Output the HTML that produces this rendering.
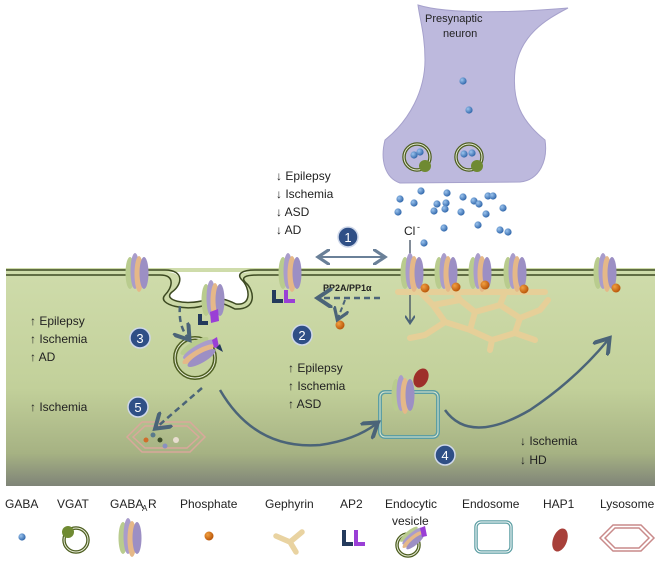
<!DOCTYPE html>
<html><head><meta charset="utf-8"><style>
html,body{margin:0;padding:0;background:#fff;}
svg{display:block;}
text{font-family:"Liberation Sans",sans-serif;fill:#222;}
</style></head><body>
<svg width="661" height="573" viewBox="0 0 661 573" xmlns="http://www.w3.org/2000/svg">
<defs>
<linearGradient id="cell" x1="0" y1="0" x2="0" y2="1">
<stop offset="0" stop-color="#cfdcab"/><stop offset="0.55" stop-color="#c2d09a"/><stop offset="0.85" stop-color="#a6b283"/><stop offset="1" stop-color="#7f8478"/>
</linearGradient>
<radialGradient id="ball" cx="0.35" cy="0.35" r="0.7"><stop offset="0" stop-color="#9cc4ee"/><stop offset="1" stop-color="#2c63a8"/></radialGradient>
<radialGradient id="pho" cx="0.35" cy="0.35" r="0.7"><stop offset="0" stop-color="#f2a040"/><stop offset="1" stop-color="#b65207"/></radialGradient>
<g id="rec">
<ellipse cx="-7" cy="0" rx="4.5" ry="16" fill="#b9cc8e"/>
<ellipse cx="-2" cy="-2" rx="4.5" ry="18" fill="#a99ccb"/>
<ellipse cx="2" cy="1" rx="4.5" ry="18" fill="#e5b888"/>
<ellipse cx="7" cy="0" rx="4.5" ry="16" fill="#9c8fc4"/>
</g>
<g id="gaba"><circle r="3.6" fill="url(#ball)"/></g>
<marker id="ah" markerWidth="8" markerHeight="8" refX="5" refY="4" orient="auto"><path d="M0 0 L6 4 L0 8" fill="none" stroke="#4b6478" stroke-width="1.6"/></marker>
<marker id="ahs" markerWidth="8" markerHeight="8" refX="5" refY="4" orient="auto-start-reverse"><path d="M0 0 L6 4 L0 8" fill="none" stroke="#6a8098" stroke-width="1.6"/></marker>
</defs>

<!-- cell -->
<rect x="6" y="268" width="649" height="218" fill="url(#cell)"/>
<!-- invagination pocket (white) -->
<path d="M165 272 C185 272 182 285 172 292 C162 300 185 306 205 300 C218 296 228 300 236 304 C252 306 250 288 242 280 C236 274 242 272 255 272 Z" fill="#fff"/>
<path d="M6 270 H165 C185 270 182 285 172 292 C162 300 185 306 205 300 C218 296 228 300 236 304 C252 306 250 288 242 280 C236 274 242 270 255 270 H655" fill="none" stroke="#3d4a22" stroke-width="1.5"/>
<path d="M6 275 H160 C176 275 172 288 165 295 C156 305 188 312 205 305 C218 300 225 304 235 309 C258 310 254 290 246 283 C240 277 246 275 258 275 H655" fill="none" stroke="#3d4a22" stroke-width="1.5"/>

<!-- presynaptic neuron -->
<path d="M418 5 C450 15 520 12 568 8 C545 20 520 35 515 70 C512 100 520 120 545 140 C548 160 540 180 520 182 L400 183 C385 178 380 160 385 140 C410 120 425 90 425 60 C425 35 420 20 418 5 Z" fill="#bdb9dd" stroke="#a6a1cc"/>
<text x="425" y="22" font-size="11">Presynaptic</text>
<text x="443" y="37" font-size="11">neuron</text>
<use href="#gaba" x="463" y="81"/><use href="#gaba" x="469" y="110"/>
<circle cx="417" cy="157" r="13" fill="none" stroke="#4d5e20" stroke-width="3.5"/><circle cx="417" cy="157" r="13" fill="none" stroke="#e8ecd8" stroke-width="1"/>
<circle cx="469" cy="157" r="13" fill="none" stroke="#4d5e20" stroke-width="3.5"/><circle cx="469" cy="157" r="13" fill="none" stroke="#e8ecd8" stroke-width="1"/>
<circle cx="425" cy="166" r="6" fill="#6f8a32"/><circle cx="477" cy="166" r="6" fill="#6f8a32"/>
<use href="#gaba" x="414" y="155"/><use href="#gaba" x="420" y="152"/><use href="#gaba" x="464" y="154"/><use href="#gaba" x="472" y="153"/>
<g>
<use href="#gaba" x="421" y="191"/><use href="#gaba" x="447" y="193"/><use href="#gaba" x="463" y="197"/><use href="#gaba" x="488" y="196"/><use href="#gaba" x="493" y="196"/>
<use href="#gaba" x="400" y="199"/><use href="#gaba" x="414" y="203"/><use href="#gaba" x="437" y="204"/><use href="#gaba" x="446" y="203"/><use href="#gaba" x="474" y="201"/><use href="#gaba" x="479" y="204"/><use href="#gaba" x="503" y="208"/>
<use href="#gaba" x="398" y="212"/><use href="#gaba" x="434" y="211"/><use href="#gaba" x="445" y="209"/><use href="#gaba" x="461" y="212"/><use href="#gaba" x="486" y="214"/>
<use href="#gaba" x="444" y="228"/><use href="#gaba" x="478" y="225"/><use href="#gaba" x="500" y="230"/><use href="#gaba" x="508" y="232"/><use href="#gaba" x="424" y="243"/>
</g>
<text x="404" y="235" font-size="12">Cl</text><text x="417" y="230" font-size="9">-</text>
<path d="M410 240 V322" stroke="#3f4f60" stroke-width="1.3" marker-end="url(#ah)"/>

<!-- disease text -->
<g font-size="12">
<text x="276" y="180">↓ Epilepsy</text><text x="276" y="198">↓ Ischemia</text><text x="276" y="216">↓ ASD</text><text x="276" y="234">↓ AD</text>
<text x="30" y="325">↑ Epilepsy</text><text x="30" y="343">↑ Ischemia</text><text x="30" y="361">↑ AD</text>
<text x="30" y="411">↑ Ischemia</text>
<text x="288" y="372">↑ Epilepsy</text><text x="288" y="390">↑ Ischemia</text><text x="288" y="408">↑ ASD</text>
<text x="520" y="445">↓ Ischemia</text><text x="520" y="464">↓ HD</text>
</g>
<text x="323" y="291" font-size="9" font-weight="bold">PP2A/PP1α</text>

<!-- numbered circles -->
<g font-size="13" text-anchor="middle">
<circle cx="348" cy="237" r="10" fill="#2f4f86" stroke="#cfd8ea" stroke-width="1.5"/><text x="348" y="242" style="fill:#fff">1</text>
<circle cx="302" cy="335" r="10" fill="#2f4f86" stroke="#cfd8ea" stroke-width="1.5"/><text x="302" y="340" style="fill:#fff">2</text>
<circle cx="140" cy="338" r="10" fill="#2f4f86" stroke="#cfd8ea" stroke-width="1.5"/><text x="140" y="343" style="fill:#fff">3</text>
<circle cx="138" cy="407" r="10" fill="#2f4f86" stroke="#cfd8ea" stroke-width="1.5"/><text x="138" y="412" style="fill:#fff">5</text>
<circle cx="445" cy="455" r="10" fill="#2f4f86" stroke="#cfd8ea" stroke-width="1.5"/><text x="445" y="460" style="fill:#fff">4</text>
</g>

<!-- gephyrin lattice -->
<g stroke="#e6cf98" stroke-width="6" stroke-linecap="round" fill="none">
<path d="M398 292 H545 M420 292 L433 305 L460 300 L475 312 L500 305 L520 318 L540 310 M433 305 L445 322 L470 330 L475 312 M445 322 L425 335 M470 330 L492 340 L515 333 L520 318 M500 305 L505 292 M460 300 L455 292 M515 333 L535 340 M492 340 L490 350 M410 338 L425 335 M548 300 L540 310"/>
</g>
<use href="#rec" x="137" y="273"/>
<use href="#rec" x="290" y="273"/>
<use href="#rec" x="412" y="273"/><use href="#rec" x="446" y="273"/><use href="#rec" x="480" y="273"/><use href="#rec" x="515" y="273"/>
<use href="#rec" x="605" y="273"/>
<circle cx="425" cy="288" r="4.5" fill="url(#pho)"/><circle cx="456" cy="287" r="4.5" fill="url(#pho)"/><circle cx="485" cy="285" r="4.5" fill="url(#pho)"/><circle cx="524" cy="289" r="4.5" fill="url(#pho)"/>
<circle cx="616" cy="288" r="4.5" fill="url(#pho)"/>
<circle cx="340" cy="325" r="4.5" fill="url(#pho)"/>
<path d="M272 290 h4 v9 h7 v4 h-11 z" fill="#243a5c"/><path d="M284 290 h4 v9 h7 v4 h-11 z" fill="#9a3fd6"/>
<use href="#rec" x="213" y="300"/>
<path d="M198 314 h4 v7 h6 v4 h-10 z" fill="#243a5c"/><path d="M210 312 l8 -3 l1 12 l-8 2 z" fill="#9a3fd6"/>

<!-- endocytic vesicle -->
<circle cx="195" cy="358" r="20" fill="none" stroke="#4d5e20" stroke-width="4"/><circle cx="195" cy="358" r="20" fill="none" stroke="#e8ecd8" stroke-width="1"/>
<g transform="translate(198 352) rotate(60)"><use href="#rec"/></g>
<path d="M212 340 l5 -3 l2 10 l-5 1 z" fill="#9a3fd6"/><path d="M216 348 l4 -4 l3 8 z" fill="#243a5c"/>

<!-- lysosome -->
<path d="M127 437 L142 422 H190 L205 437 L190 452 H142 Z" fill="none" stroke="#d9a89b" stroke-width="1.5"/>
<path d="M133 437 L145 426 H187 L199 437 L187 448 H145 Z" fill="none" stroke="#d9a89b" stroke-width="1.5"/>
<circle cx="146" cy="440" r="2.5" fill="#d06d2a"/><circle cx="153" cy="435" r="2.5" fill="#5a7a8c"/><circle cx="160" cy="440" r="2.5" fill="#3a4a28"/><circle cx="165" cy="446" r="2.5" fill="#8a90c0"/><circle cx="176" cy="440" r="3" fill="#e8ddd0"/>

<!-- endosome -->
<rect x="380" y="392" width="58" height="45" rx="5" fill="none" stroke="#5c9ea3" stroke-width="4"/>
<rect x="380" y="392" width="58" height="45" rx="5" fill="none" stroke="#dfe8cf" stroke-width="1"/>
<use href="#rec" x="403" y="395"/>
<ellipse cx="421" cy="378" rx="7" ry="10" transform="rotate(25 421 378)" fill="#9e2f2a"/>

<!-- arrows -->
<path d="M320 257 H383" stroke="#6a8098" stroke-width="2" marker-start="url(#ahs)" marker-end="url(#ahs)"/>
<path d="M380 298 H320" stroke="#4b6478" stroke-width="2.5" stroke-dasharray="6 4" marker-end="url(#ah)"/>
<path d="M345 300 L338 318" stroke="#4b6478" stroke-width="2" stroke-dasharray="5 3" marker-end="url(#ah)"/>
<path d="M180 306 Q178 325 188 338" stroke="#4b6478" stroke-width="2.5" stroke-dasharray="6 4" fill="none" marker-end="url(#ah)"/>
<path d="M202 388 L157 427" stroke="#4b6478" stroke-width="2.5" stroke-dasharray="6 4" marker-end="url(#ah)"/>
<path d="M220 390 Q255 450 320 445 Q355 440 376 424" stroke="#4b6478" stroke-width="2.5" fill="none" marker-end="url(#ah)"/>
<path d="M445 410 Q470 445 530 410 Q575 380 608 340" stroke="#4b6478" stroke-width="2.5" fill="none" marker-end="url(#ah)"/>

<!-- legend -->
<g font-size="12">
<text x="5" y="508">GABA</text><text x="57" y="508">VGAT</text>
<text x="110" y="508">GABA</text><text x="142" y="511" font-size="8">A</text><text x="148" y="508">R</text>
<text x="180" y="508">Phosphate</text><text x="265" y="508">Gephyrin</text><text x="340" y="508">AP2</text>
<text x="385" y="508">Endocytic</text><text x="392" y="525">vesicle</text>
<text x="462" y="508">Endosome</text><text x="543" y="508">HAP1</text><text x="600" y="508">Lysosome</text>
</g>
<use href="#gaba" x="22" y="537"/>
<circle cx="76" cy="540" r="12" fill="none" stroke="#4d5e20" stroke-width="3.5"/><circle cx="76" cy="540" r="12" fill="none" stroke="#e8ecd8" stroke-width="1"/><circle cx="68" cy="532" r="6" fill="#6f8a32"/>
<use href="#rec" x="130" y="538"/>
<circle cx="209" cy="536" r="4.5" fill="url(#pho)"/>
<g transform="translate(290 540)"><path d="M-14 -4 L0 2 L12 -8 M0 2 L6 12" stroke="#e9d3a1" stroke-width="5.5" stroke-linecap="round" fill="none"/></g>
<path d="M342 530 h4 v12 h7 v4 h-11 z" fill="#243a5c"/><path d="M354 530 h4 v12 h7 v4 h-11 z" fill="#9a3fd6"/>
<circle cx="408" cy="545" r="11" fill="none" stroke="#4d5e20" stroke-width="3.5"/><circle cx="408" cy="545" r="11" fill="none" stroke="#e8ecd8" stroke-width="1"/>
<g transform="translate(412 538) rotate(50) scale(0.7)"><use href="#rec"/></g>
<path d="M420 528 l5 -2 l2 10 l-5 1 z" fill="#9a3fd6"/>
<rect x="476" y="522" width="35" height="30" rx="5" fill="none" stroke="#5c9ea3" stroke-width="3.5"/><rect x="476" y="522" width="35" height="30" rx="5" fill="none" stroke="#fff" stroke-width="1"/>
<ellipse cx="560" cy="540" rx="7" ry="12" transform="rotate(20 560 540)" fill="#a8403a"/>
<path d="M600 538 L613 525 H641 L654 538 L641 551 H613 Z" fill="none" stroke="#c98a8a" stroke-width="1.5"/>
<path d="M605 538 L615 528 H639 L649 538 L639 548 H615 Z" fill="none" stroke="#c98a8a" stroke-width="1.5"/>
</svg>
</body></html>
